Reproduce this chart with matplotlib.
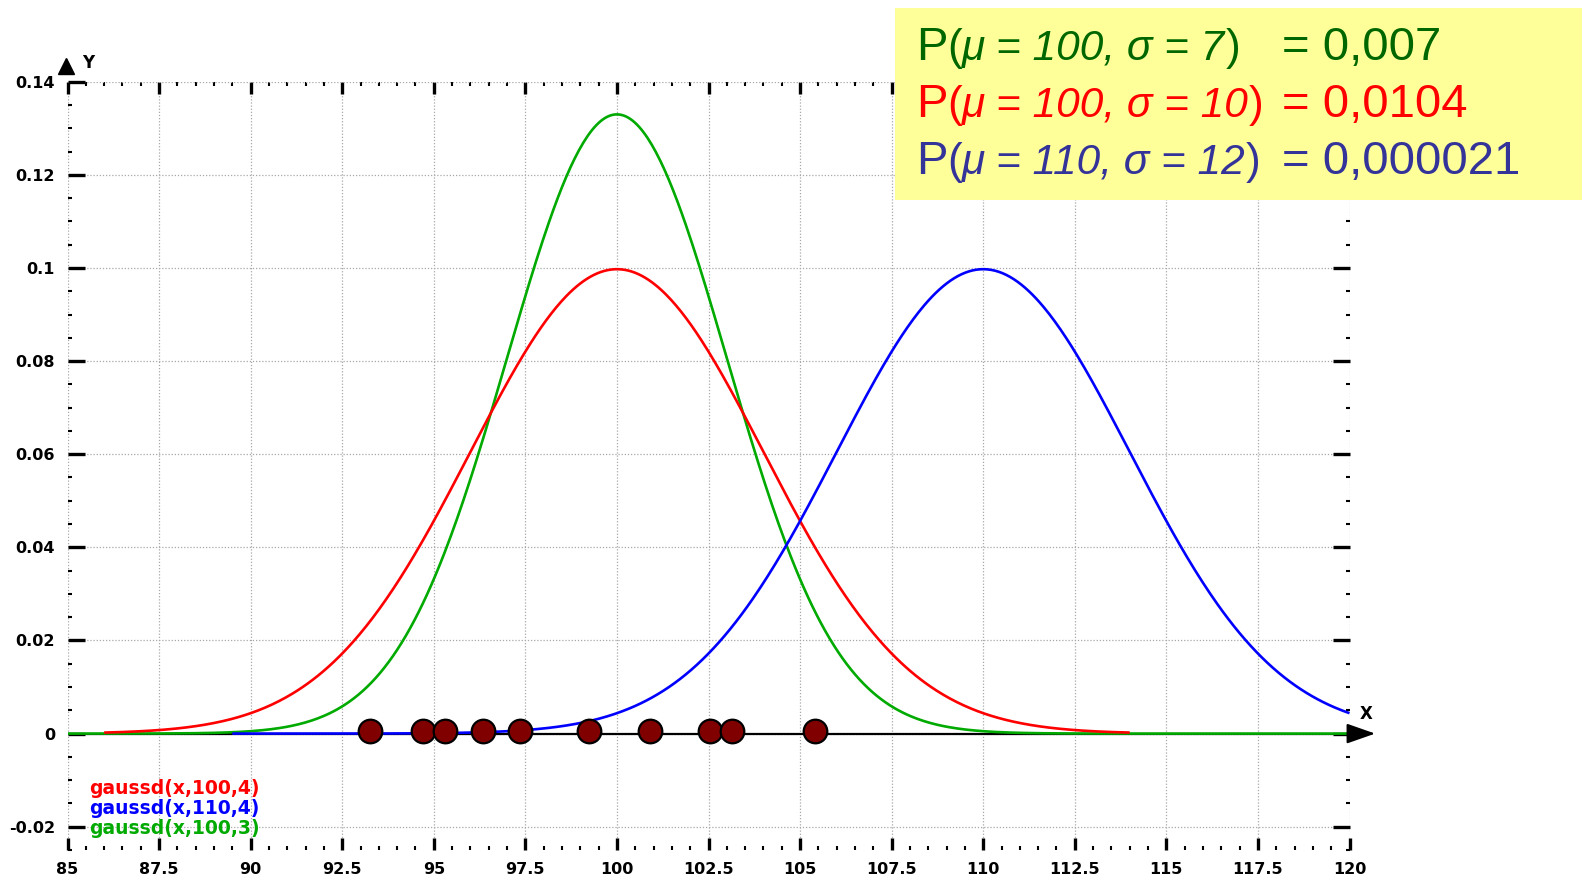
import numpy as np
import matplotlib.pyplot as plt
from matplotlib.patches import Rectangle
from matplotlib.offsetbox import TextArea, HPacker, AnnotationBbox
from matplotlib.ticker import MultipleLocator, FixedLocator, FixedFormatter
from matplotlib.transforms import ScaledTranslation, blended_transform_factory

# --- data ---
# curves are gaussd(x, mu, sd) over the span the original plotter drew them
curve_labels = ["gaussd(x,100,4)", "gaussd(x,110,4)", "gaussd(x,100,3)"]
curve_mu = [100, 110, 100]
curve_sd = [4, 4, 3]
curve_span = [(86.0, 114.0), (89.5, 120.0), (85.0, 120.0)]
curve_colors = ["#ff0000", "#0000ff", "#00aa00"]
curve_z = [4, 5, 3]

# observed sample sitting on the x axis
sample_x = [93.25, 94.7, 95.3, 96.35, 97.35, 99.25, 100.9, 102.55, 103.15, 105.4]
sample_y = [0.0006] * len(sample_x)

# likelihood box
box_mu = [100, 100, 110]
box_sigma = [7, 10, 12]
box_p = ["0,007", "0,0104", "0,000021"]
box_colors = ["#006600", "#ff0000", "#333399"]

x_ticks = [85, 87.5, 90, 92.5, 95, 97.5, 100, 102.5, 105, 107.5, 110, 112.5, 115, 117.5, 120]
x_tick_labels = ["85", "87.5", "90", "92.5", "95", "97.5", "100", "102.5", "105",
                 "107.5", "110", "112.5", "115", "117.5", "120"]
y_ticks = [-0.02, 0, 0.02, 0.04, 0.06, 0.08, 0.1, 0.12, 0.14]
y_tick_labels = ["-0.02", "0", "0.02", "0.04", "0.06", "0.08", "0.1", "0.12", "0.14"]

W, H = 1587, 876
fig = plt.figure(figsize=(W / 100, H / 100), dpi=100)
ax = fig.add_axes([67.5 / W, 26 / H, 1282 / W, 768.3 / H])
ax.set_xlim(85, 120)
ax.set_ylim(-0.025, 0.14)

for s in ax.spines.values():
    s.set_visible(False)

# curves
for mu, sd, (a, b), c, z in zip(curve_mu, curve_sd, curve_span, curve_colors, curve_z):
    xs = np.linspace(a, b, 600)
    ys = np.exp(-0.5 * ((xs - mu) / sd) ** 2) / (sd * np.sqrt(2 * np.pi))
    ax.plot(xs, ys, color=c, lw=1.9, zorder=z, solid_capstyle="butt")

ax.axhline(0, color="black", lw=1.6, zorder=2)

ax.plot(sample_x, sample_y, "o", ms=17, mfc="#800000", mec="black", mew=1.6,
        zorder=10, clip_on=False)

# ticks and grid
ax.xaxis.set_major_locator(FixedLocator(x_ticks))
ax.xaxis.set_major_formatter(FixedFormatter(x_tick_labels))
ax.yaxis.set_major_locator(FixedLocator(y_ticks))
ax.yaxis.set_major_formatter(FixedFormatter(y_tick_labels))
ax.xaxis.set_minor_locator(MultipleLocator(0.5))
ax.yaxis.set_minor_locator(MultipleLocator(0.005))
ax.tick_params(axis="x", which="major", direction="in", length=8.5, width=2.4,
               top=True, bottom=True, pad=9)
ax.tick_params(axis="y", which="major", direction="in", length=12, width=2.4,
               left=True, right=True, pad=9)
ax.tick_params(which="minor", direction="in", length=3, width=1.5,
               top=True, bottom=True, left=True, right=True)
for lab in ax.get_xticklabels() + ax.get_yticklabels():
    lab.set_fontfamily("DejaVu Sans")
    lab.set_fontweight("bold")
    lab.set_fontsize(11.5)
ax.grid(True, which="major", color="#a8a8a8", linestyle=(0, (1, 1.5)), lw=0.9)
ax.set_axisbelow(True)

# axis arrows and names
px = fig.dpi_scale_trans
xt = blended_transform_factory(ax.transAxes, ax.transData)
ax.annotate("", xy=(1, 0), xycoords=xt + ScaledTranslation(18.5 / 72, 0, px),
            xytext=(1, 0), textcoords=xt,
            arrowprops=dict(arrowstyle="-|>,head_length=0.8,head_width=0.28",
                            mutation_scale=22, color="black", lw=1.5,
                            shrinkA=0, shrinkB=0),
            annotation_clip=False)
ax.text(1, 0, "X", transform=xt + ScaledTranslation(11.9 / 72, 13.9 / 72, px),
        ha="center", va="center", fontsize=12, fontweight="bold")
ax.plot([0], [1], marker="^", ms=11, color="black", clip_on=False,
        transform=ax.transAxes + ScaledTranslation(-1 / 72, 11 / 72, px))
ax.text(0, 1, "Y", transform=ax.transAxes + ScaledTranslation(14.8 / 72, 13.5 / 72, px),
        ha="center", va="center", fontsize=12, fontweight="bold")

# function labels, bottom left
for i, (lab, c) in enumerate(zip(curve_labels, curve_colors)):
    ax.text(0.0168, 0.0794 - i * 0.026, lab, transform=ax.transAxes, color=c,
            fontsize=13.5, fontweight="bold", family="DejaVu Sans", va="center",
            zorder=12)

# yellow likelihood box
fig.patches.append(Rectangle((895 / W, 1 - 199.5 / H), 687 / W, 191.5 / H,
                             transform=fig.transFigure, facecolor="#ffff99",
                             edgecolor="none", zorder=5))
line_y = [H - 47.6, H - 105, H - 162]
for mu, sig, p, c, yc in zip(box_mu, box_sigma, box_p, box_colors, line_y):
    tp = dict(fontsize=34, color=c, family="Liberation Sans")
    parts = [TextArea("P", textprops=tp),
             TextArea("(", textprops=dict(tp, fontsize=32)),
             TextArea(f"μ = {mu}, σ = {sig}", textprops=dict(tp, fontsize=30.5, style="italic")),
             TextArea(")", textprops=dict(tp, fontsize=32))]
    pack = HPacker(children=parts, pad=0, sep=0, align="baseline")
    ab = AnnotationBbox(pack, (916, yc), xycoords="figure pixels", box_alignment=(0, 0.5),
                        frameon=False, pad=0, zorder=6)
    fig.add_artist(ab)
    fig.text(1282 / W, yc / H, f"= {p}", fontsize=34, color=c, family="Liberation Sans",
             va="center", zorder=6)

fig.savefig("out.png", dpi=100)
